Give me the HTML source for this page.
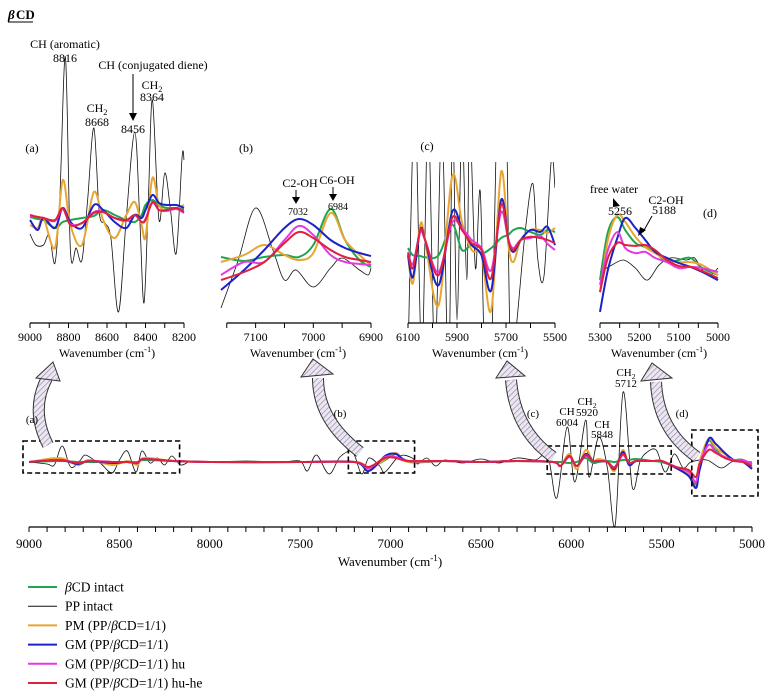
<!DOCTYPE html>
<html><head><meta charset="utf-8">
<style>
html,body{margin:0;padding:0;background:#fff;}
svg{display:block;font-family:"Liberation Serif",serif;}
</style></head>
<body>
<svg id="fig" width="770" height="699" viewBox="0 0 770 699" xmlns="http://www.w3.org/2000/svg">
<defs>
<pattern id="hatch" patternUnits="userSpaceOnUse" width="4" height="4" patternTransform="rotate(45)">
<rect width="4" height="4" fill="#ece6f2"/><line x1="0" y1="0" x2="0" y2="4" stroke="#8c7d99" stroke-width="1.2"/>
</pattern>
<clipPath id="clipC"><rect x="408" y="162" width="147" height="161"/></clipPath>
</defs>
<g>
<text x="8" y="19" font-size="13" font-weight="bold" font-style="italic">β</text><text x="16" y="19" font-size="13" font-weight="bold">CD</text>
<line x1="8" y1="22" x2="33" y2="22" stroke="#000" stroke-width="1"/>
</g>
<g id="layer"></g>
</svg>
<script>
// ---------- DATA ----------
// Panel (a) 9000-8200
const aBlackW=[9000,8970,8930,8900,8870,8845,8816,8790,8760,8730,8700,8668,8640,8610,8580,8540,8500,8456,8430,8408,8385,8364,8330,8300,8270,8240,8210,8200];
const aBlackV=[-0.16,-0.27,-0.27,-0.17,-0.45,0.2,1.61,-0.32,-0.3,-0.42,0.2,0.9,0.05,-0.05,-0.2,-0.94,0.0,0.86,0,-0.85,0.2,1.18,-0.02,0.45,0.08,-0.35,0.61,0.58];
const aW=[9000,8960,8930,8870,8830,8790,8730,8668,8620,8560,8500,8456,8420,8400,8364,8330,8290,8240,8200];
const aOrange=[-0.07,-0.10,0,-0.30,0.38,-0.07,-0.27,0.26,-0.02,-0.20,0.03,0.16,-0.07,-0.19,0.40,0.13,0.08,0.10,0.13];
const aBlue=[-0.02,-0.12,0,-0.10,0.10,-0.04,-0.10,0.13,0.08,-0.04,-0.10,0.03,0,0.08,0.23,0.15,0.13,0.13,0.10];
const aGreen=[0.01,-0.01,-0.02,-0.10,-0.04,-0.02,0,0.02,0.08,0.03,-0.02,-0.04,0.03,0.13,0.18,0.13,0.10,0.10,0.08];
const aMagenta=[0.02,0.01,0,-0.03,0.09,-0.06,-0.05,0.06,0.06,0,-0.03,0.03,-0.04,-0.01,0.15,0.08,0.07,0.09,0.05];
const aRed=[0.03,0.01,0,-0.02,0.10,-0.07,-0.05,0.05,0.06,0,-0.02,0.03,-0.04,-0.02,0.16,0.08,0.08,0.10,0.06];
const aTicks=[9000,8800,8600,8400,8200];
// Panel (b) 7160-6900
const bBlackW=[7160,7130,7100,7070,7050,7030,7000,6970,6950,6920,6905,6900];
const bBlackV=[-0.96,0,1.04,0.2,-0.4,-0.2,-0.54,-0.16,0.04,-0.2,-0.3,-0.16];
const bW=[7160,7120,7085,7050,7025,7000,6970,6945,6920,6900];
const bOrange=[-0.04,0.1,0.3,0.1,0,0.14,0.94,0.4,0.1,-0.1];
const bGreen=[0.06,-0.02,0.06,0.1,0.06,0.3,1.02,0.4,0,-0.14];
const bBlue=[-0.6,-0.2,0.2,0.64,0.82,0.7,0.4,0.24,0.14,0.08];
const bMagenta=[-0.3,-0.04,-0.04,0.4,0.68,0.5,0.1,-0.04,-0.08,-0.1];
const bRed=[-0.4,-0.24,-0.04,0.34,0.56,0.44,0.2,0.06,0,-0.04];
const bTicks=[7100,7000,6900];
// Panel (c) 6100-5500
const cBlackW=[6100,6072,6044,6018,5990,5962,5935,5918,5900,5880,5860,5848,5825,5805,5785,5760,5735,5718,5700,5680,5655,5620,5590,5570,5545,5515,5500];
const cBlackV=[-3,3.5,-3,3,-3,3,-3.5,3,-2,3,-1,3,-0.7,1.2,-3.5,-3,3.5,3,3.5,-3.5,-2,0.3,1.4,-0.5,-0.9,2,1.3];
const cW=[6100,6080,6050,6030,5975,5920,5880,5840,5800,5760,5720,5690,5670,5640,5600,5560,5530,5500];
const cOrange=[-0.38,-1.08,0.38,0,-1.63,1.58,0.45,-0.25,-0.38,-1.75,1.7,-0.13,-0.55,0,0.25,0.25,0.18,0.3];
const cBlue=[-0.38,-0.93,0.25,0,-1.13,0.7,0.3,-0.13,-0.38,-1.25,1.0,0,-0.3,0,0.25,0.2,0.33,-0.13];
const cGreen=[-0.2,-0.38,-0.4,-0.43,-0.38,0.38,-0.25,-0.13,-0.33,-0.2,0.05,0.13,0.25,0.3,0.2,0.13,0.25,0.2];
const cMagenta=[-0.3,-0.6,0.2,0,-0.8,0.43,0.3,0,-0.2,-0.75,0.7,0,-0.2,0,0.05,0.1,-0.1,-0.25];
const cRed=[-0.33,-0.7,0.25,0,-0.88,0.55,0.25,-0.08,-0.25,-0.95,0.88,0,-0.25,0,0.08,0.05,0,-0.08];
const cTicks=[6100,5900,5700,5500];
// Panel (d) 5300-5000
const dBlackW=[5300,5270,5240,5210,5180,5150,5120,5080,5060,5040,5020,5000];
const dBlackV=[-0.4,-0.17,0,-0.27,-0.67,-0.17,0.07,0,0.07,-0.33,-0.5,-0.27];
const dW=[5300,5280,5256,5236,5210,5185,5160,5130,5100,5070,5040,5000];
const dOrange=[-1.07,0.67,1.5,1.27,0.77,0.43,0.23,0,-0.07,-0.07,-0.17,-0.5];
const dGreen=[-0.67,0.93,1.43,1,0.57,0.43,0.27,-0.07,0,0.07,-0.27,-0.5];
const dBlue=[-1.73,-0.33,0.73,1.4,1.07,0.67,0.27,0.07,-0.1,-0.23,-0.4,-0.67];
const dMagenta=[-0.83,0.33,0.93,0.4,0.23,0.27,0.07,-0.07,-0.27,-0.23,-0.27,-0.4];
const dRed=[-1.07,0.07,0.57,0.5,0.47,0.5,0.33,0,-0.2,-0.23,-0.37,-0.6];
const dTicks=[5300,5200,5100,5000];
// Main 9000-5000
const mBlackW=[9000,8900,8860,8816,8770,8720,8690,8640,8600,8540,8500,8456,8408,8376,8330,8290,8250,8210,8160,8100,8000,7800,7600,7500,7460,7410,7340,7280,7210,7160,7120,7060,7030,6950,6880,6850,6800,6750,6700,6600,6500,6400,6300,6200,6130,6080,6023,5980,5920,5902,5848,5800,5757,5713,5663,5620,5586,5530,5480,5430,5380,5337,5250,5170,5100,5000];
const mBlackV=[0,-0.1,-0.15,0.8,-0.25,0.05,0.35,0.1,-0.1,-0.55,0.1,0.55,-0.5,0.55,-0.05,0.2,-0.15,0.3,-0.15,0.05,0,0.05,0,0.05,-0.45,0.35,-0.6,0.25,0.5,-0.6,0.2,-0.2,-0.5,0.3,0.2,-0.1,0.2,-0.2,0.1,-0.05,0.15,-0.05,0.2,0.1,0.3,-1.8,1.75,-1.0,2.1,-0.75,1.25,-0.3,-3.15,3.5,-1.25,0,0.45,0.6,-0.5,0.4,-0.3,0,0.1,-0.3,0.05,0];
const mW=[9000,8830,8730,8668,8540,8456,8400,8364,8200,8000,7500,7200,7120,7030,6970,6900,6700,6500,6300,6100,6060,6010,5970,5920,5880,5850,5800,5760,5715,5680,5640,5550,5500,5420,5350,5310,5290,5240,5200,5150,5100,5050,5000];
const mOrange=[0,0.2,-0.15,0.1,-0.15,0.05,-0.15,0.2,0.05,0,0,0,-0.35,0.15,0.45,0,0.05,0,0.05,0,-0.2,0.4,-0.35,0.6,0.05,0.15,0,-0.45,0.6,-0.15,0.05,0.05,0.05,-0.3,-0.6,-1.25,0,1.15,0.7,0.4,0.1,0.05,-0.3];
const mBlue=[0,0.1,-0.1,0.05,-0.05,0,-0.05,0.15,0.05,0,0,0,-0.45,0.3,0.4,0.05,0.05,0,0.05,0,-0.2,0.3,-0.2,0.4,0.05,0.05,0,-0.35,0.5,-0.15,0.05,0.05,0.05,-0.3,-0.7,-1.3,-0.4,1.15,0.9,0.45,0.1,0,-0.35];
const mGreen=[0,0.05,0,0,0,0,0,0.1,0.05,0,0,0,-0.3,0.1,0.4,0,0.05,0,0.05,0,0,-0.05,0,0.2,-0.05,0,0.05,0,0.1,0.1,0.15,0.05,0,-0.25,-0.6,-1.1,-0.1,1.05,0.6,0.2,0.1,0.1,-0.3];
const mMagenta=[0,0.1,-0.05,0.05,0,0,-0.05,0.15,0.05,0,0,0,-0.3,0.25,0.25,0.05,0.05,0,0.05,0,-0.2,0.25,-0.2,0.3,0.05,0.05,0,-0.25,0.35,-0.05,0.05,0.05,0.05,-0.25,-0.5,-1.0,-0.1,0.85,0.5,0.25,0.1,0.1,-0.1];
const mRed=[0,0.1,-0.05,0.05,0,0,-0.05,0.15,0.05,0,0,0,-0.25,0.2,0.2,0.05,0.05,0,0.05,0,-0.2,0.3,-0.2,0.35,0.05,0.05,0,-0.3,0.4,-0.05,0.05,0.05,0.05,-0.25,-0.4,-0.75,-0.1,0.6,0.45,0.2,0.05,0,-0.2];
const mTicks=[9000,8500,8000,7500,7000,6500,6000,5500,5000];
const legendLabels=["βCD intact","PP intact","PM (PP/βCD=1/1)","GM (PP/βCD=1/1)","GM (PP/βCD=1/1) hu","GM (PP/βCD=1/1) hu-he"];

// ---------- DRAWING ----------
const NS="http://www.w3.org/2000/svg";
const layer=document.getElementById('layer');
const COL={green:"#1fa54e",black:"#111",orange:"#e8a532",blue:"#1a22c8",magenta:"#e33be0",red:"#e0203c"};
function mk(tag,attrs,parent){const e=document.createElementNS(NS,tag);for(const k in attrs)e.setAttribute(k,attrs[k]);(parent||layer).appendChild(e);return e;}
function smooth(p){let d="M"+p[0][0].toFixed(1)+","+p[0][1].toFixed(1);for(let i=0;i<p.length-1;i++){const p0=p[i-1]||p[i],p1=p[i],p2=p[i+1],p3=p[i+2]||p2;d+=" C"+(p1[0]+(p2[0]-p0[0])/6).toFixed(1)+","+(p1[1]+(p2[1]-p0[1])/6).toFixed(1)+" "+(p2[0]-(p3[0]-p1[0])/6).toFixed(1)+","+(p2[1]-(p3[1]-p1[1])/6).toFixed(1)+" "+p2[0].toFixed(1)+","+p2[1].toFixed(1);}return d;}
function axisX(w0,w1,x0,x1){return w=>x0+(w0-w)/(w0-w1)*(x1-x0);}
function axisY(base,scale){return v=>base-v*scale;}
function series(g,ws,vs,xf,yf,color,width,name){const pts=ws.map((w,i)=>[xf(w),yf(vs[i])]);const p=mk('path',{d:smooth(pts),fill:'none',stroke:color,'stroke-width':width,'stroke-linejoin':'round'},g);


return p;}
function txt(x,y,s,size,anchor,parent,name){const t=mk('text',{x:x,y:y,'font-size':size,'text-anchor':anchor||'middle'},parent);t.textContent=s;


return t;}
function sub(t,x,y,base,subs,size,parent,name){const e=mk('text',{x:x,y:y,'font-size':size,'text-anchor':'middle'},parent);e.appendChild(document.createTextNode(base));const ts=mk('tspan',{'font-size':size*0.7,dy:3},e);ts.textContent=subs;


return e;}
function wnTitle(x,y,size,parent,name){const e=mk('text',{x:x,y:y,'font-size':size,'text-anchor':'middle'},parent);e.appendChild(document.createTextNode("Wavenumber (cm"));const s=mk('tspan',{'font-size':size*0.7,dy:-5},e);s.textContent="-1";const s2=mk('tspan',{dy:5},e);s2.textContent=")";

}
function xAxis(g,xf,w0,w1,step,labels,y,lblY,size,prefix,tickLen){mk('line',{x1:xf(w0),x2:xf(w1),y1:y,y2:y,stroke:'#000','stroke-width':1.3},g);
for(let w=w0;w>=w1-0.01;w-=step){const l=mk('line',{x1:xf(w),x2:xf(w),y1:y,y2:y+tickLen,stroke:'#000','stroke-width':1},g);}
labels.forEach(w=>{txt(xf(w),lblY,String(w),size,'middle',g,prefix+'-tick-label');});}
function panel(name,ws,blackW,blackV,sets,xf,yf,clip){const g=mk('g',{});
const gb=clip?mk('g',{'clip-path':'url(#'+clip+')'},g):g;series(gb,blackW,blackV,xf,yf,COL.black,0.8,'pp-intact-line');
const order=[['green','bcd-intact-line'],['orange','pm-line'],['blue','gm-line'],['magenta','gm-hu-line'],['red','gm-hu-he-line']];
order.forEach(([c,n],i)=>series(g,ws,sets[i],xf,yf,COL[c],2,n));return g;}

// Panel a
const xa=axisX(9000,8200,30,184),ya=axisY(218,100);
const ga=panel('panel-a',aW,aBlackW,aBlackV,[aGreen,aOrange,aBlue,aMagenta,aRed],xa,ya);
xAxis(ga,xa,9000,8200,100,aTicks,323,341,12,'panel-a-x',5);wnTitle(107,357,12,ga,'panel-a-x-title');
// Panel b
const xb=axisX(7160,6900,221,371),yb=axisY(260,50);
const gbp=panel('panel-b',bW,bBlackW,bBlackV,[bGreen,bOrange,bBlue,bMagenta,bRed],xb,yb);
xAxis(gbp,xb,7150,6900,50,bTicks,323,341,12,'panel-b-x',5);wnTitle(298,357,12,gbp,'panel-b-x-title');
// Panel c
const xc=axisX(6100,5500,408,555),yc=axisY(240,40);
const gc=panel('panel-c',cW,cBlackW,cBlackV,[cGreen,cOrange,cBlue,cMagenta,cRed],xc,yc,'clipC');
xAxis(gc,xc,6100,5500,100,cTicks,323,341,12,'panel-c-x',5);wnTitle(480,357,12,gc,'panel-c-x-title');
// Panel d
const xd=axisX(5300,5000,600,718),yd=axisY(260,30);
const gd=panel('panel-d',dW,dBlackW,dBlackV,[dGreen,dOrange,dBlue,dMagenta,dRed],xd,yd);
xAxis(gd,xd,5300,5000,50,dTicks,323,341,12,'panel-d-x',5);wnTitle(659,357,12,gd,'panel-d-x-title');
// Main
const xm=axisX(9000,5000,29,752),ym=axisY(462,20);
const gm=panel('main-spectrum',mW,mBlackW,mBlackV,[mGreen,mOrange,mBlue,mMagenta,mRed],xm,ym);
xAxis(gm,xm,9000,5000,100,mTicks,527,548,13,'main-x',5);wnTitle(390,566,13,gm,'main-x-title');

// Dashed zoom boxes
function box(w0,w1,y0,y1,name){const r=mk('rect',{x:xm(w0)-6,y:y0,width:xm(w1)-xm(w0)+12,height:y1-y0,fill:'none',stroke:'#000','stroke-width':1.6,'stroke-dasharray':'5,3'});}
box(9000,8200,441,473,'zoom-box-a');box(7200,6900,441,473,'zoom-box-b');box(6100,5480,446,474,'zoom-box-c');box(5300,5000,430,496,'zoom-box-d');

// Hatched arrows
function arrow(d,head,name){const g=mk('g',{});
mk('path',{d:d,fill:'none',stroke:'#333','stroke-width':12},g);mk('path',{d:d,fill:'none',stroke:'url(#hatch)','stroke-width':10},g);
mk('polygon',{points:head,fill:'url(#hatch)',stroke:'#333','stroke-width':1},g);}
arrow('M48,445 Q30,410 47,378','36,378 53,362 60,381','arrow-a');
arrow('M360,452 Q318,420 318,378','301,377 313,359 333,374','arrow-b');
arrow('M553,457 Q515,430 511,380','496,378 507,361 525,376','arrow-c');
arrow('M697,457 Q658,430 656,382','641,381 652,363 672,378','arrow-d');

// Main annotations
const ann=mk('g',{});
txt(32,423,'(a)',11,'middle',ann,'label-a');txt(340,417,'(b)',11,'middle',ann,'label-b');txt(533,417,'(c)',11,'middle',ann,'label-c');txt(682,417,'(d)',11,'middle',ann,'label-d');
txt(567,415,'CH',11,'middle',ann,'ch-6004-label');txt(567,426,'6004',11,'middle',ann,'ch-6004-value');
sub(0,587,405,'CH','2',11,ann,'ch2-5920-label');txt(587,416,'5920',11,'middle',ann,'ch2-5920-value');
txt(602,428,'CH',11,'middle',ann,'ch-5848-label');txt(602,438,'5848',11,'middle',ann,'ch-5848-value');
sub(0,626,376,'CH','2',11,ann,'ch2-5712-label');txt(626,387,'5712',11,'middle',ann,'ch2-5712-value');

// Panel annotations
const pa=mk('g',{});
txt(65,48,'CH (aromatic)',12,'middle',pa,'ch-aromatic-label');txt(65,62,'8816',12,'middle',pa,'ch-aromatic-value');
txt(153,69,'CH (conjugated diene)',12,'middle',pa,'ch-diene-label');
mk('line',{x1:133,y1:74,x2:133,y2:114,stroke:'#000','stroke-width':1},pa);mk('polygon',{points:'129,113 137,113 133,121',fill:'#000'},pa);
txt(133,133,'8456',12,'middle',pa,'ch-diene-value');
sub(0,97,112,'CH','2',12,pa,'ch2-8668-label');txt(97,126,'8668',12,'middle',pa,'ch2-8668-value');
sub(0,152,89,'CH','2',12,pa,'ch2-8364-label');txt(152,101,'8364',12,'middle',pa,'ch2-8364-value');
txt(32,152,'(a)',12,'middle',pa,'panel-a-label');txt(246,152,'(b)',12,'middle',pa,'panel-b-label');txt(427,150,'(c)',12,'middle',pa,'panel-c-label');txt(710,217,'(d)',12,'middle',pa,'panel-d-label');
txt(300,187,'C2-OH',12,'middle',pa,'c2oh-label');mk('line',{x1:296,y1:190,x2:296,y2:198,stroke:'#000'},pa);mk('polygon',{points:'292,197 300,197 296,204',fill:'#000'},pa);txt(298,215,'7032',10,'middle',pa,'c2oh-value');
txt(337,184,'C6-OH',12,'middle',pa,'c6oh-label');mk('line',{x1:333,y1:187,x2:333,y2:195,stroke:'#000'},pa);mk('polygon',{points:'329,194 337,194 333,201',fill:'#000'},pa);txt(338,210,'6984',10,'middle',pa,'c6oh-value');
txt(614,193,'free water',12,'middle',pa,'free-water-label');mk('polygon',{points:'613,198 620,206 613,207',fill:'#000'},pa);txt(620,215,'5256',12,'middle',pa,'free-water-value');
txt(666,204,'C2-OH',12,'middle',pa,'c2oh-d-label');txt(664,214,'5188',12,'middle',pa,'c2oh-d-value');
mk('line',{x1:652,y1:216,x2:643,y2:232,stroke:'#000'},pa);mk('polygon',{points:'638,236 640,227 646,230',fill:'#000'},pa);

// Legend
const lg=mk('g',{});
const legCols=[COL.green,COL.black,COL.orange,COL.blue,COL.magenta,COL.red];
legendLabels.forEach((s,i)=>{const y=587+i*19.2;const e=mk('g',{},lg);


mk('line',{x1:28,x2:57,y1:y,y2:y,stroke:legCols[i],'stroke-width':i==1?1:2},e);
const t=mk('text',{x:65,y:y+4.5,'font-size':13.5},e);
s.split('β').forEach((part,j)=>{if(j>0){const b=mk('tspan',{'font-style':'italic'},t);b.textContent='β';}t.appendChild(document.createTextNode(part));});});
</script>
</body></html>
